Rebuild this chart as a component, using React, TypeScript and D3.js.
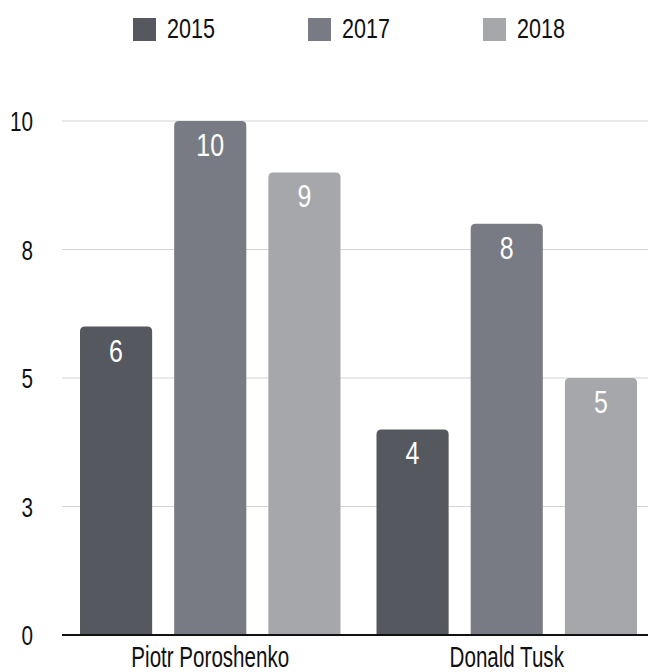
import React from "react";
import * as d3 from "d3";

const categories = ["Piotr Poroshenko", "Donald Tusk"];
const seriesNames = ["2015", "2017", "2018"];
const values2015 = [6, 4];
const values2017 = [10, 8];
const values2018 = [9, 5];
const tickValues = [0, 2.5, 5, 7.5, 10];
const tickLabels = ["0", "3", "5", "8", "10"];
const colors = ["#55585f", "#787b83", "#a5a7aa"];

const W = 648;
const H = 672;
const FONT = "'Liberation Sans', Arial, sans-serif";

function topRoundedRect(x: number, y: number, w: number, h: number, r: number) {
  const rr = Math.min(r, h, w / 2);
  return `M${x},${y + h}V${y + rr}Q${x},${y} ${x + rr},${y}H${x + w - rr}Q${x + w},${y} ${x + w},${y + rr}V${y + h}Z`;
}

function Txt(props: {
  x: number;
  y: number;
  sx: number;
  size: number;
  anchor?: string;
  fill?: string;
  dy?: string;
  children: React.ReactNode;
}) {
  const { x, y, sx, size, anchor = "start", fill = "#111", dy, children } = props;
  return (
    <text
      transform={`translate(${x},${y}) scale(${sx},1)`}
      textAnchor={anchor}
      fontSize={size}
      fill={fill}
      dy={dy}
    >
      {children}
    </text>
  );
}

export default function App() {
  const series = [values2015, values2017, values2018];
  const x0 = d3.scaleBand<string>().domain(categories).range([62, 655]).paddingInner(0).paddingOuter(0);
  const x1 = d3
    .scaleBand<string>()
    .domain(seriesNames)
    .range([18, x0.bandwidth() - 18])
    .paddingInner(22 / 94)
    .paddingOuter(0);
  const y = d3.scaleLinear().domain([0, 10]).range([635, 121]);

  const legendX = [133, 308, 483];

  return (
    <svg width={W} height={H} style={{ position: "absolute", left: 0, top: 0, background: "#fff" }} fontFamily={FONT}>
      {/* legend */}
      {seriesNames.map((s, i) => (
        <g key={s}>
          <rect x={legendX[i]} y={18} width={23} height={23} fill={colors[i]} />
          <Txt x={legendX[i] + 34} y={38} sx={0.77} size={28}>
            {s}
          </Txt>
        </g>
      ))}
      {/* grid */}
      {tickValues.map((t, i) => (
        <g key={t}>
          {t !== 0 && <line x1={62} x2={W} y1={y(t)} y2={y(t)} stroke="#d4d4d4" strokeWidth={1.2} />}
          <Txt x={33} y={y(t)} dy="0.36em" anchor="end" sx={0.74} size={28}>
            {tickLabels[i]}
          </Txt>
        </g>
      ))}
      {/* bars */}
      {categories.map((c, ci) => (
        <g key={c} transform={`translate(${x0(c)},0)`}>
          {seriesNames.map((s, si) => {
            const v = series[si][ci];
            const bx = x1(s)!;
            const bw = x1.bandwidth();
            const by = y(v);
            const bh = y(0) - by;
            return (
              <g key={s}>
                <path d={topRoundedRect(bx, by, bw, bh, 5)} fill={colors[si]} />
                <Txt x={bx + bw / 2} y={by + 35} anchor="middle" sx={0.78} size={32} fill="#fff">
                  {v}
                </Txt>
              </g>
            );
          })}
          <Txt x={x0.bandwidth() / 2} y={667} anchor="middle" sx={0.71} size={29}>
            {c}
          </Txt>
        </g>
      ))}
      {/* baseline */}
      <line x1={62} x2={W} y1={y(0)} y2={y(0)} stroke="#111" strokeWidth={2} />
    </svg>
  );
}
